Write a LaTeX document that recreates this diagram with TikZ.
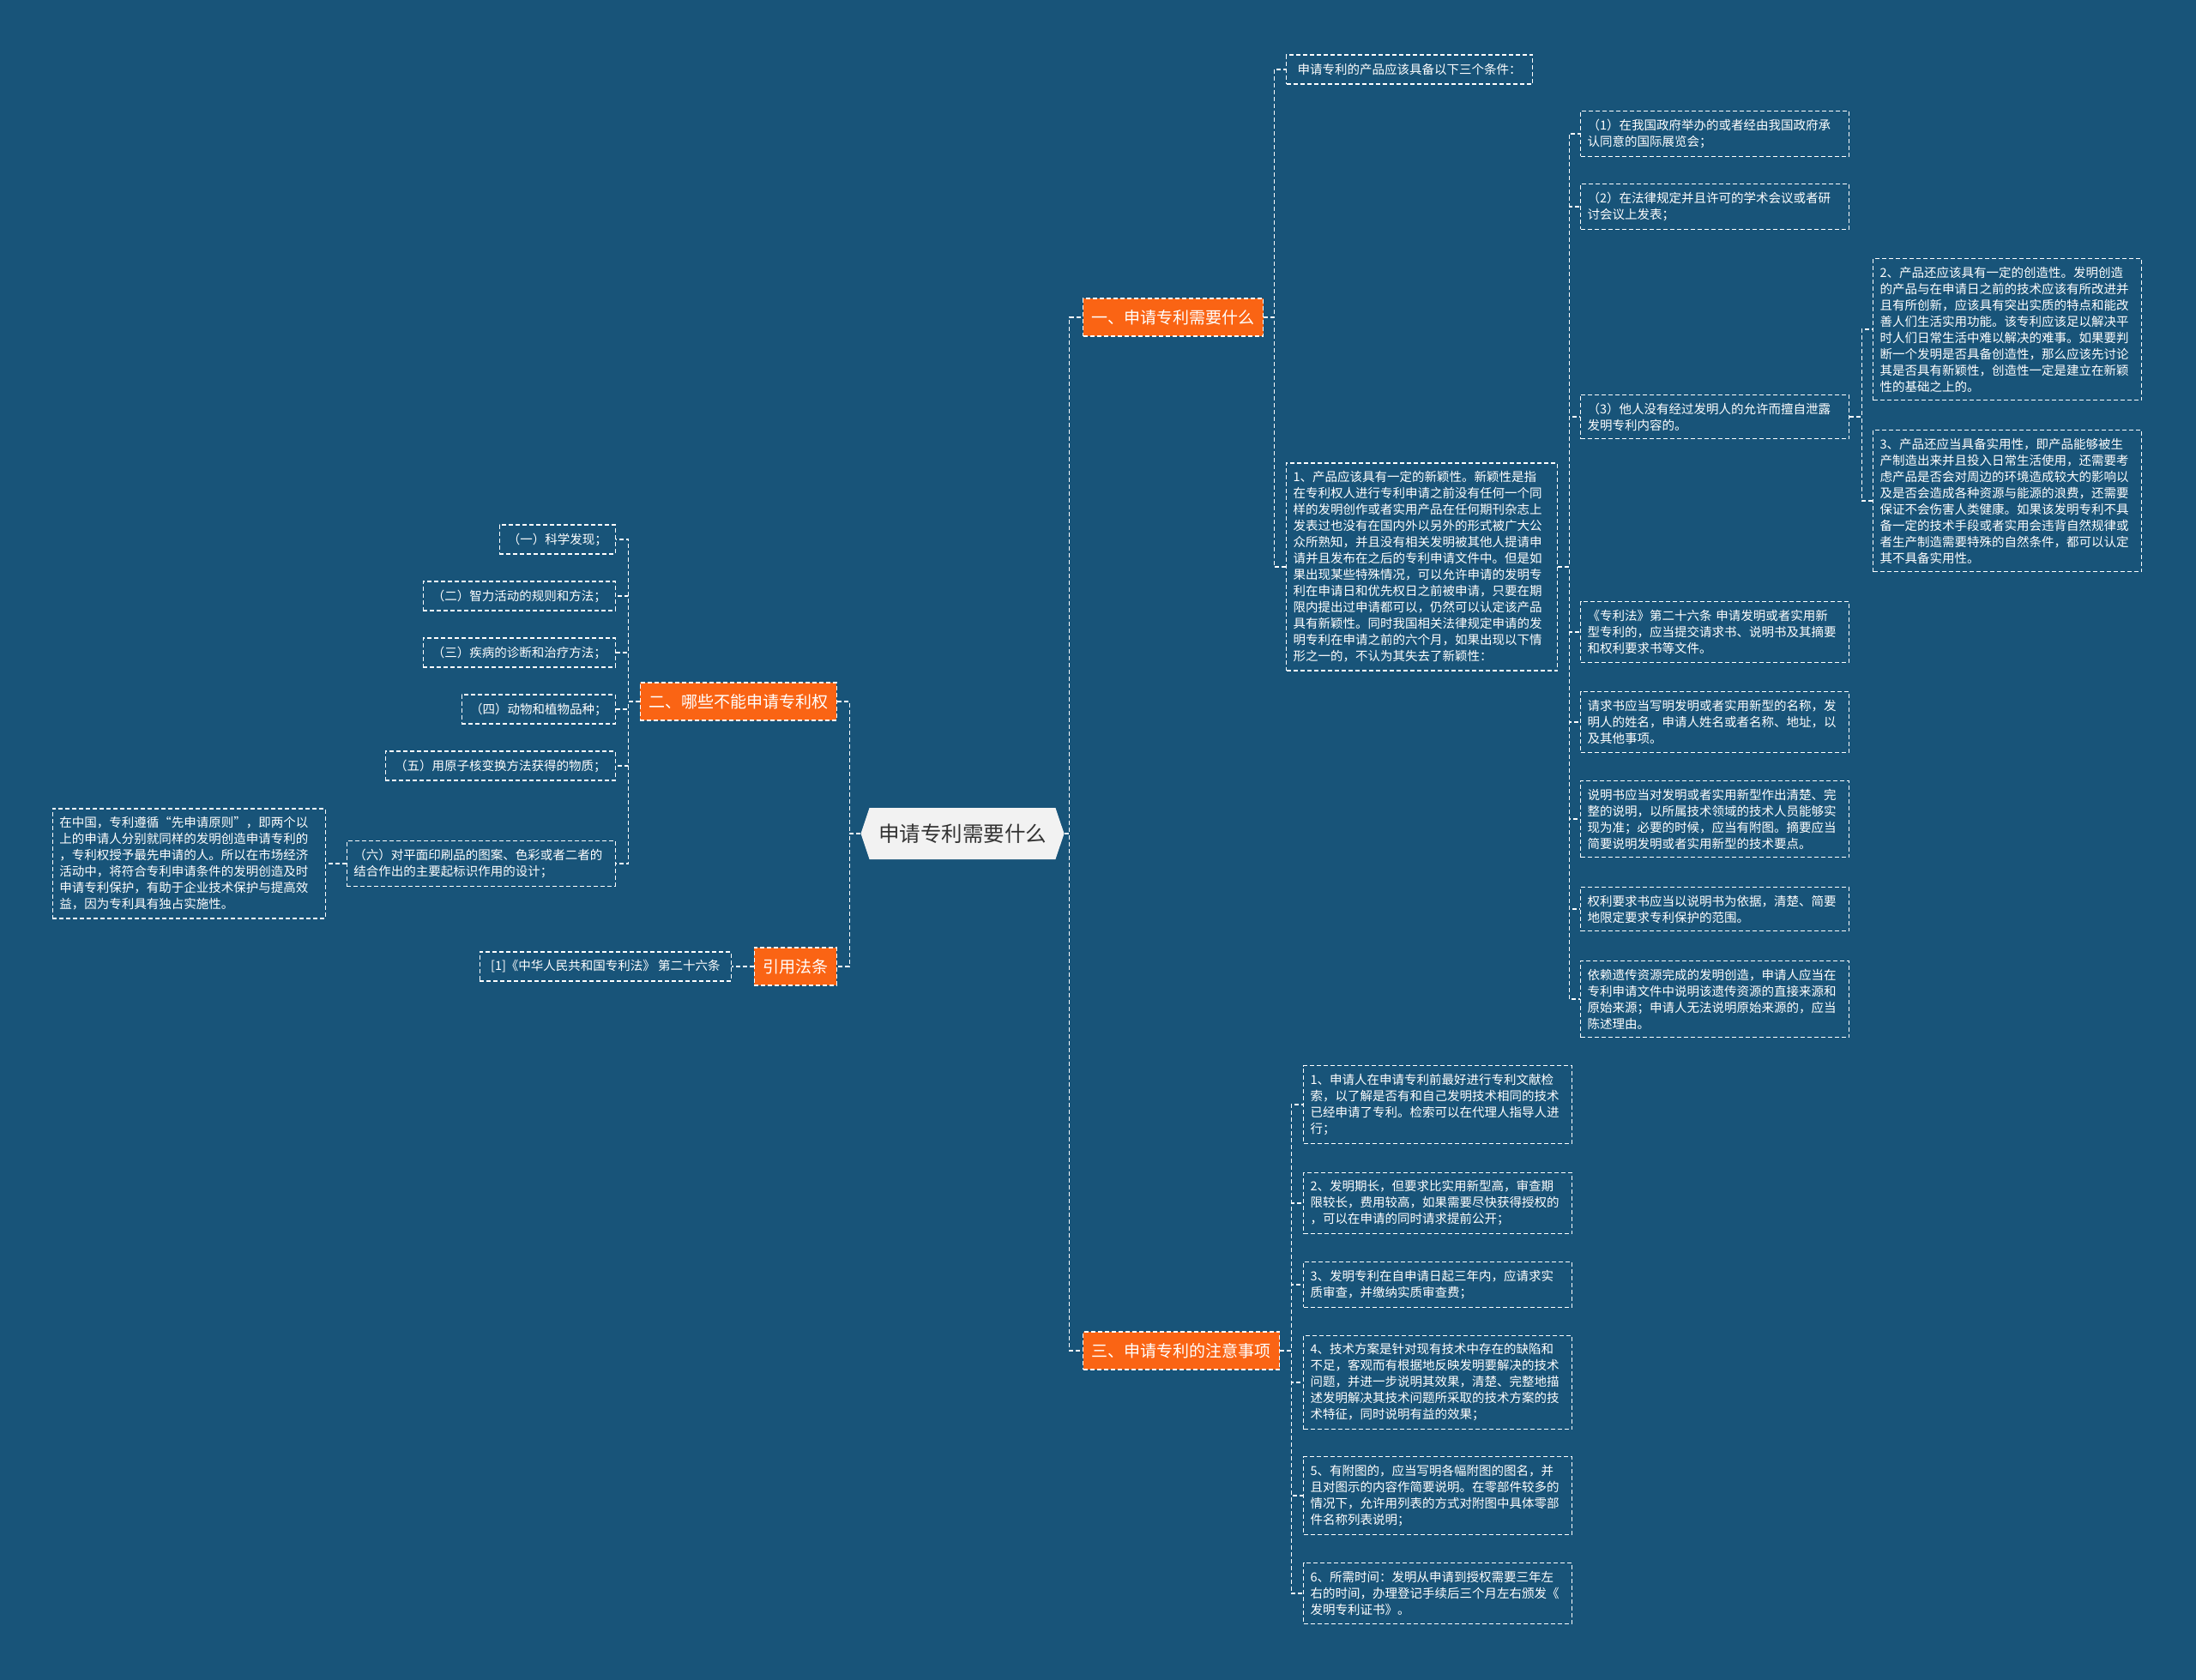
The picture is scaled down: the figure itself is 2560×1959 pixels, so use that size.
\documentclass[tikz,border=0pt]{standalone}
\usepackage{fontspec}
\setmainfont{Noto Sans CJK SC}
\usetikzlibrary{shapes.symbols}
\definecolor{mapbg}{RGB}{24,84,121}
\definecolor{tagorange}{RGB}{250,100,20}
\definecolor{rootgray}{RGB}{242,242,242}
\definecolor{roottext}{RGB}{51,51,51}

\begin{document}
\begin{tikzpicture}[x=1pt,y=-1pt,
    link/.style={draw=white, line width=1.2pt, dash pattern=on 5pt off 3pt},
    leaf/.style={draw=white, line width=1.2pt, dash pattern=on 5pt off 3pt, text=white,
        font=\fontsize{14.5pt}{19pt}\selectfont, inner xsep=8pt, inner ysep=9.5pt, align=left},
    wideleaf/.style={leaf, text width=297pt},
    shortleaf/.style={leaf, align=center, minimum height=34pt, inner ysep=4pt},
    branch/.style={fill=tagorange, draw=white, line width=1.2pt, dash pattern=on 5pt off 3pt, text=white,
        font=\fontsize{19pt}{23pt}\selectfont, inner xsep=10pt, inner ysep=4pt, minimum height=44pt},
    root/.style={signal, signal to=west and east, signal pointer angle=143, fill=rootgray, text=roottext,
        font=\fontsize{24.5pt}{29pt}\selectfont, minimum width=237pt, minimum height=60pt}]

        \fill[mapbg] (0,0) rectangle (2560,1959);

        \node[root] (c) at (1122, 972) {申请专利需要什么};
        \node[branch, anchor=west] (b1) at (1262, 370) {一、申请专利需要什么};
        \node[branch, anchor=east] (b2) at (976, 818) {二、哪些不能申请专利权};
        \node[branch, anchor=west] (b3) at (1262, 1575) {三、申请专利的注意事项};
        \node[branch, anchor=east] (b4) at (976, 1127) {引用法条};

        \node[shortleaf, anchor=west, minimum width=287pt] (t0) at (1499, 81) {申请专利的产品应该具备以下三个条件：};
        \node[leaf, text width=300pt, anchor=west] (n1) at (1499, 661) {1、产品应该具有一定的新颖性。新颖性是指\\在专利权人进行专利申请之前没有任何一个同\\样的发明创作或者实用产品在任何期刊杂志上\\发表过也没有在国内外以另外的形式被广大公\\众所熟知，并且没有相关发明被其他人提请申\\请并且发布在之后的专利申请文件中。但是如\\果出现某些特殊情况，可以允许申请的发明专\\利在申请日和优先权日之前被申请，只要在期\\限内提出过申请都可以，仍然可以认定该产品\\具有新颖性。同时我国相关法律规定申请的发\\明专利在申请之前的六个月，如果出现以下情\\形之一的，不认为其失去了新颖性：};

        \node[wideleaf, anchor=west] (p1) at (1842, 156) {（1）在我国政府举办的或者经由我国政府承\\认同意的国际展览会；};
        \node[wideleaf, anchor=west] (p2) at (1842, 241) {（2）在法律规定并且许可的学术会议或者研\\讨会议上发表；};
        \node[wideleaf, anchor=west] (p3) at (1842, 486) {（3）他人没有经过发明人的允许而擅自泄露\\发明专利内容的。};
        \node[wideleaf, anchor=west] (q1) at (1842, 737) {《专利法》第二十六条 申请发明或者实用新\\型专利的，应当提交请求书、说明书及其摘要\\和权利要求书等文件。};
        \node[wideleaf, anchor=west] (q2) at (1842, 842) {请求书应当写明发明或者实用新型的名称，发\\明人的姓名，申请人姓名或者名称、地址，以\\及其他事项。};
        \node[wideleaf, anchor=west] (q3) at (1842, 955) {说明书应当对发明或者实用新型作出清楚、完\\整的说明，以所属技术领域的技术人员能够实\\现为准；必要的时候，应当有附图。摘要应当\\简要说明发明或者实用新型的技术要点。};
        \node[wideleaf, anchor=west] (q4) at (1842, 1060) {权利要求书应当以说明书为依据，清楚、简要\\地限定要求专利保护的范围。};
        \node[wideleaf, anchor=west] (q5) at (1842, 1165) {依赖遗传资源完成的发明创造，申请人应当在\\专利申请文件中说明该遗传资源的直接来源和\\原始来源；申请人无法说明原始来源的，应当\\陈述理由。};

        \node[wideleaf, anchor=west] (r1) at (2183, 384) {2、产品还应该具有一定的创造性。发明创造\\的产品与在申请日之前的技术应该有所改进并\\且有所创新，应该具有突出实质的特点和能改\\善人们生活实用功能。该专利应该足以解决平\\时人们日常生活中难以解决的难事。如果要判\\断一个发明是否具备创造性，那么应该先讨论\\其是否具有新颖性，创造性一定是建立在新颖\\性的基础之上的。};
        \node[wideleaf, anchor=west] (r2) at (2183, 584) {3、产品还应当具备实用性，即产品能够被生\\产制造出来并且投入日常生活使用，还需要考\\虑产品是否会对周边的环境造成较大的影响以\\及是否会造成各种资源与能源的浪费，还需要\\保证不会伤害人类健康。如果该发明专利不具\\备一定的技术手段或者实用会违背自然规律或\\者生产制造需要特殊的自然条件，都可以认定\\其不具备实用性。};

        \node[wideleaf, anchor=west] (s1) at (1519, 1288) {1、申请人在申请专利前最好进行专利文献检\\索，以了解是否有和自己发明技术相同的技术\\已经申请了专利。检索可以在代理人指导人进\\行；};
        \node[wideleaf, anchor=west] (s2) at (1519, 1403) {2、发明期长，但要求比实用新型高，审查期\\限较长，费用较高，如果需要尽快获得授权的\\，可以在申请的同时请求提前公开；};
        \node[wideleaf, anchor=west] (s3) at (1519, 1498) {3、发明专利在自申请日起三年内，应请求实\\质审查，并缴纳实质审查费；};
        \node[wideleaf, anchor=west] (s4) at (1519, 1612) {4、技术方案是针对现有技术中存在的缺陷和\\不足，客观而有根据地反映发明要解决的技术\\问题，并进一步说明其效果，清楚、完整地描\\述发明解决其技术问题所采取的技术方案的技\\术特征，同时说明有益的效果；};
        \node[wideleaf, anchor=west] (s5) at (1519, 1744) {5、有附图的，应当写明各幅附图的图名，并\\且对图示的内容作简要说明。在零部件较多的\\情况下，允许用列表的方式对附图中具体零部\\件名称列表说明；};
        \node[wideleaf, anchor=west] (s6) at (1519, 1858) {6、所需时间：发明从申请到授权需要三年左\\右的时间，办理登记手续后三个月左右颁发《\\发明专利证书》。};

        \node[shortleaf, anchor=east, minimum width=135pt] (l1) at (718, 629) {（一）科学发现；};
        \node[shortleaf, anchor=east, minimum width=224pt] (l2) at (718, 695) {（二）智力活动的规则和方法；};
        \node[shortleaf, anchor=east, minimum width=224pt] (l3) at (718, 761) {（三）疾病的诊断和治疗方法；};
        \node[shortleaf, anchor=east, minimum width=179pt] (l4) at (718, 827) {（四）动物和植物品种；};
        \node[shortleaf, anchor=east, minimum width=268pt] (l5) at (718, 893) {（五）用原子核变换方法获得的物质；};
        \node[wideleaf, anchor=east] (l6) at (718, 1007) {（六）对平面印刷品的图案、色彩或者二者的\\结合作出的主要起标识作用的设计；};
        \node[leaf, text width=302pt, anchor=east] (f1) at (380, 1007) {在中国，专利遵循“先申请原则”，即两个以\\上的申请人分别就同样的发明创造申请专利的\\，专利权授予最先申请的人。所以在市场经济\\活动中，将符合专利申请条件的发明创造及时\\申请专利保护，有助于企业技术保护与提高效\\益，因为专利具有独占实施性。};
        \node[shortleaf, anchor=east, minimum width=293pt] (g1) at (853, 1127) {[1]《中华人民共和国专利法》 第二十六条};

        \draw[link] (c.east) -- ++(6,0) |- (b1.west);
        \draw[link] (c.east) -- ++(6,0) |- (b3.west);
        \draw[link] (c.west) -- ++(-13,0) |- (b2.east);
        \draw[link] (c.west) -- ++(-13,0) |- (b4.east);

        \draw[link] (b1.east) -- ++(12,0) |- (t0.west);
        \draw[link] (b1.east) -- ++(12,0) |- (n1.west);
        \draw[link] (n1.east) -- ++(13,0) |- (p1.west);
        \draw[link] (n1.east) -- ++(13,0) |- (p2.west);
        \draw[link] (n1.east) -- ++(13,0) |- (p3.west);
        \draw[link] (n1.east) -- ++(13,0) |- (q1.west);
        \draw[link] (n1.east) -- ++(13,0) |- (q2.west);
        \draw[link] (n1.east) -- ++(13,0) |- (q3.west);
        \draw[link] (n1.east) -- ++(13,0) |- (q4.west);
        \draw[link] (n1.east) -- ++(13,0) |- (q5.west);
        \draw[link] (p3.east) -- ++(14,0) |- (r1.west);
        \draw[link] (p3.east) -- ++(14,0) |- (r2.west);

        \draw[link] (b3.east) -- ++(13,0) |- (s1.west);
        \draw[link] (b3.east) -- ++(13,0) |- (s2.west);
        \draw[link] (b3.east) -- ++(13,0) |- (s3.west);
        \draw[link] (b3.east) -- ++(13,0) |- (s4.west);
        \draw[link] (b3.east) -- ++(13,0) |- (s5.west);
        \draw[link] (b3.east) -- ++(13,0) |- (s6.west);

        \draw[link] (b2.west) -- ++(-13,0) |- (l1.east);
        \draw[link] (b2.west) -- ++(-13,0) |- (l2.east);
        \draw[link] (b2.west) -- ++(-13,0) |- (l3.east);
        \draw[link] (b2.west) -- ++(-13,0) |- (l4.east);
        \draw[link] (b2.west) -- ++(-13,0) |- (l5.east);
        \draw[link] (b2.west) -- ++(-13,0) |- (l6.east);
        \draw[link] (l6.west) -- (f1.east);
        \draw[link] (b4.west) -- (g1.east);

    \end{tikzpicture}
\end{document}
